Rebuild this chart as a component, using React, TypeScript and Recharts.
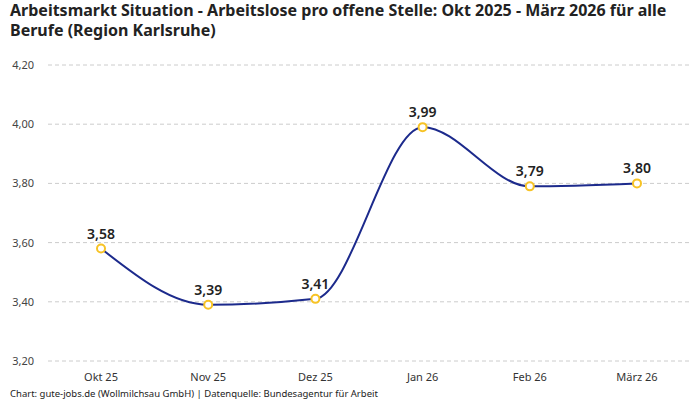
import { LineChart, Line, XAxis, YAxis, CartesianGrid, LabelList } from 'recharts';

const months = ['Okt 25', 'Nov 25', 'Dez 25', 'Jan 26', 'Feb 26', 'März 26'];
const ratio = [3.58, 3.39, 3.41, 3.99, 3.79, 3.8];
const yTicks = [3.2, 3.4, 3.6, 3.8, 4.0, 4.2];

const data = months.map((m, i) => ({ month: m, value: ratio[i] }));

const fmt = (v: number) => v.toFixed(2).replace('.', ',');
const font = '"Noto Sans", Roboto, sans-serif';

export default function App() {
  return (
    <div style={{ position: 'absolute', left: 0, top: 0, width: 700, height: 400, background: '#fff', fontFamily: font }}>
      <div
        style={{
          position: 'absolute',
          left: 10,
          top: 0,
          width: 660,
          fontSize: 16,
          lineHeight: '20px',
          fontWeight: 700,
          color: '#222',
        }}
      >
        Arbeitsmarkt Situation - Arbeitslose pro offene Stelle: Okt 2025 - März 2026 für alle Berufe (Region Karlsruhe)
      </div>
      <LineChart width={700} height={400} data={data} margin={{ top: 65, right: 10, bottom: 15, left: 10 }}>
        <CartesianGrid vertical={false} stroke="#ccc" strokeDasharray="4 3" />
        <XAxis
          dataKey="month"
          axisLine={false}
          tickLine={false}
          height={24}
          padding={{ left: 53, right: 53 }}
          tick={{ fill: '#333', fontSize: 11 }}
          tickMargin={6}
        />
        <YAxis
          domain={[3.2, 4.2]}
          ticks={yTicks}
          width={38}
          axisLine={false}
          tickLine={false}
          tickSize={0}
          tickMargin={14}
          tickFormatter={fmt}
          tick={{ fill: '#444', fontSize: 11 }}
        />
        <Line
          type="monotone"
          dataKey="value"
          stroke="#1c2a8c"
          strokeWidth={2}
          dot={{ r: 4, fill: '#fff', stroke: '#f7c325', strokeWidth: 2 }}
          isAnimationActive={false}
        >
          <LabelList
            dataKey="value"
            position="top"
            offset={10}
            formatter={(v: number) => fmt(v)}
            style={{ fill: '#222', fontSize: 14, fontWeight: 600 }}
          />
        </Line>
      </LineChart>
      <div style={{ position: 'absolute', left: 10, top: 387, fontSize: 9.5, color: '#222' }}>
        Chart: gute-jobs.de (Wollmilchsau GmbH) | Datenquelle: Bundesagentur für Arbeit
      </div>
    </div>
  );
}
